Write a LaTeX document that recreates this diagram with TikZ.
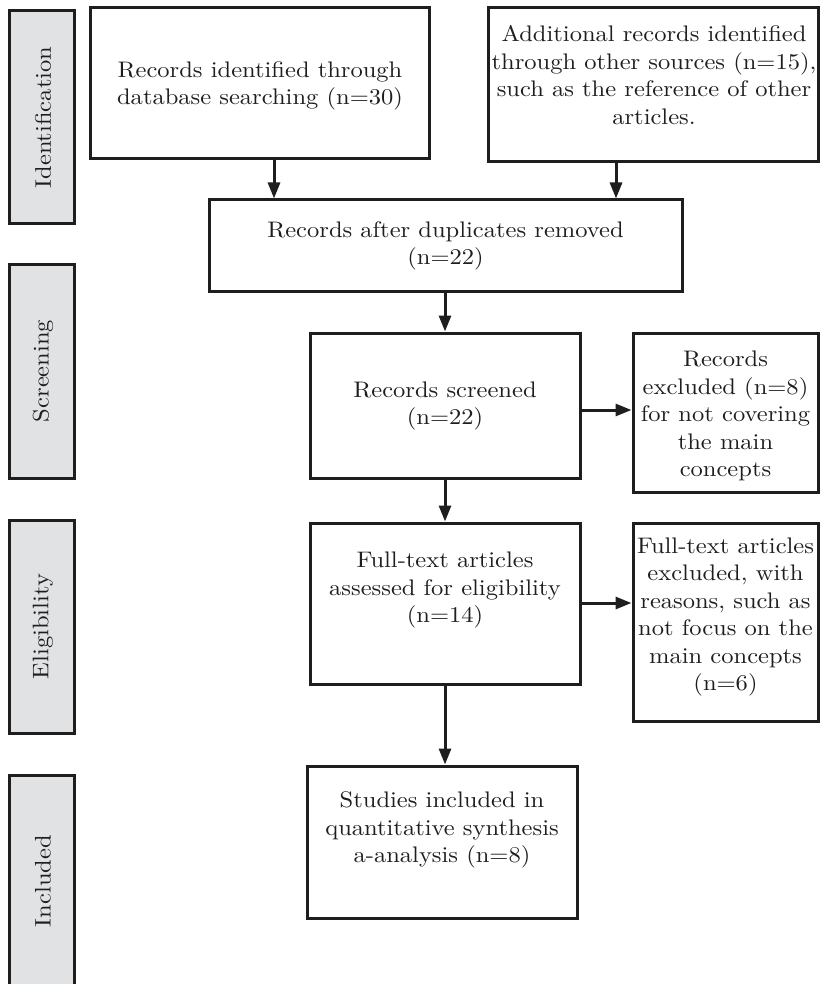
\documentclass[tikz,border=0pt]{standalone}
\usepackage{fontspec}
\setmainfont{lmroman10-regular.otf}[FakeStretch=1.09]
\usetikzlibrary{arrows.meta}
\definecolor{sidegray}{HTML}{E1E2E4}
\definecolor{ink}{HTML}{1E1E1E}
\begin{document}
\begin{tikzpicture}[x=1pt,y=-1pt,
  box/.style={draw=ink, line width=3pt, rectangle, inner sep=0pt},
  sidebox/.style={draw=ink, line width=3pt, fill=sidegray, rectangle, inner sep=0pt},
  txt/.style={align=center, inner sep=0pt, text=ink, font=\fontsize{22.5}{27.5}\selectfont},
  sidetxt/.style={rotate=90, inner sep=0pt, text=ink, font=\fontsize{22.5}{27.5}\selectfont},
  arr/.style={draw=ink, line width=3pt, -{Triangle[length=16pt,width=12pt]}}]
\useasboundingbox (0,0) rectangle (819,984);

% side stage boxes
\node[sidebox, minimum width=65pt, minimum height=213pt] (s1) at (41.5,117.5) {};
\node[sidetxt] (s1t) at (43,117.5) {Identification};
\node[sidebox, minimum width=65pt, minimum height=214pt] (s2) at (41.5,371) {};
\node[sidetxt] (s2t) at (43,371) {Screening};
\node[sidebox, minimum width=65pt, minimum height=213pt] (s3) at (41.5,626.5) {};
\node[sidetxt] (s3t) at (43,626.5) {Eligibility};
\node[sidebox, minimum width=65pt, minimum height=215pt] (s4) at (41.5,882.5) {};
\node[sidetxt] (s4t) at (43,881) {Included};

% flow boxes
\node[box, minimum width=339pt, minimum height=151pt] (b1) at (259.5,83.5) {};
\node[txt] (t1) at (260,86) {Records identified through\\database searching (n=30)};

\node[box, minimum width=330pt, minimum height=154pt] (b2) at (653,85) {};
\node[txt] (t2) at (654,75) {Additional records identified\\through other sources (n=15),\\such as the reference of other\\articles.};

\node[box, minimum width=473pt, minimum height=91pt] (b3) at (445.5,245.5) {};
\node[txt] (t3) at (445.5,246) {Records after duplicates removed\\(n=22)};

\node[box, minimum width=270pt, minimum height=145pt] (b4) at (445,405.5) {};
\node[txt] (t4) at (445,406) {Records screened\\(n=22)};

\node[box, minimum width=185pt, minimum height=159pt] (b5) at (725.5,412.5) {};
\node[txt] (t5) at (725.5,416) {Records\\excluded (n=8)\\for not covering\\the main\\concepts};

\node[box, minimum width=270pt, minimum height=161pt] (b6) at (445,603.5) {};
\node[txt] (t6) at (445,590) {Full-text articles\\assessed for eligibility\\(n=14)};

\node[box, minimum width=185pt, minimum height=198pt] (b7) at (725.5,622) {};
\node[txt] (t7) at (725.5,617) {Full-text articles\\excluded, with\\reasons, such as\\not focus on the\\main concepts\\(n=6)};

\node[box, minimum width=270pt, minimum height=152pt] (b8) at (442,842) {};
\node[txt] (t8) at (442,830) {Studies included in\\quantitative synthesis\\a-analysis (n=8)};

% connector guides
\coordinate (c1) at (274,0);
\coordinate (c2) at (616,0);
\coordinate (c3) at (445,0);
\coordinate (r1) at (0,410);
\coordinate (r2) at (0,603);

% connectors
\draw[arr] (b1.south -| c1) -- (b3.north -| c1);
\draw[arr] (b2.south -| c2) -- (b3.north -| c2);
\draw[arr] (b3.south -| c3) -- (b4.north -| c3);
\draw[arr] (b4.south -| c3) -- (b6.north -| c3);
\draw[arr] (b6.south -| c3) -- (b8.north -| c3);
\draw[arr] (b4.east |- r1) -- (b5.west |- r1);
\draw[arr] (b6.east |- r2) -- (b7.west |- r2);
\end{tikzpicture}
\end{document}
